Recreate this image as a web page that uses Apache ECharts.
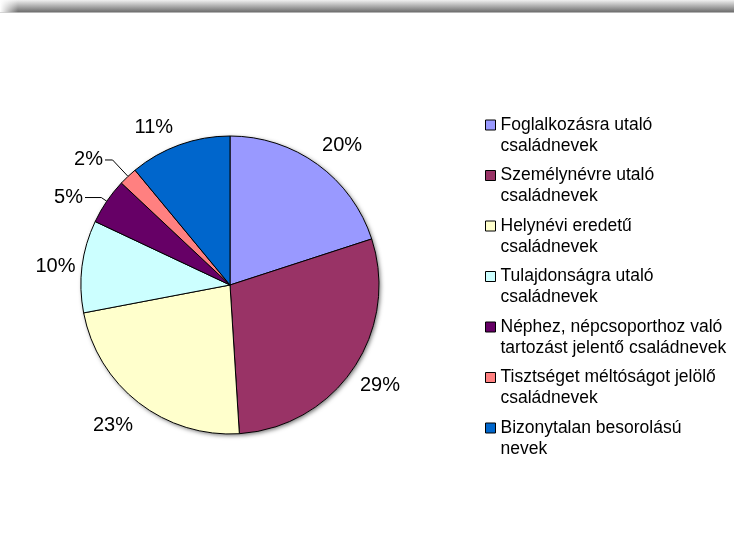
<!DOCTYPE html>
<html>
<head>
<meta charset="utf-8">
<script src="https://cdn.jsdelivr.net/npm/echarts@6/dist/echarts.min.js"></script>
<style>
html,body{margin:0;padding:0;background:#fff;}
#chart{width:734px;height:555px;}
</style>
</head>
<body>
<div id="chart"></div>
<script>
// ---- data ----
const categories = [
  'Foglalkozásra utaló\ncsaládnevek',
  'Személynévre utaló\ncsaládnevek',
  'Helynévi eredetű\ncsaládnevek',
  'Tulajdonságra utaló\ncsaládnevek',
  'Néphez, népcsoporthoz való\ntartozást jelentő családnevek',
  'Tisztséget méltóságot jelölő\ncsaládnevek',
  'Bizonytalan besorolású\nnevek'
];
const values = [20, 29, 23, 10, 5, 2, 11];
const colors = ['#9999FF', '#993366', '#FFFFCC', '#CCFFFF', '#660066', '#FF8080', '#0066CC'];

// ---- label placement tuning (layout only) ----
const labelTune = [
  {len: 22.9, len2: 0, dist: -9, line: false},
  {len: 29.7, len2: 0, dist: -17.8, line: false},
  {len: 28.2, len2: 0, dist: -11.6, line: false},
  {len: 0, len2: 0, dist: 6.7, line: false},
  {len: 6.6, len2: 16.3, dist: 2, line: true},
  {len: 22.5, len2: 7.6, dist: 2, line: true},
  {len: 18.9, len2: 0, dist: 0, line: false}
];

const FONT = '"Liberation Sans", Arial, sans-serif';
const chart = echarts.init(document.getElementById('chart'), null, {renderer: 'canvas'});

const pieData = categories.map((name, i) => ({
  name: name,
  value: values[i],
  itemStyle: {color: colors[i]},
  label: {distanceToLabelLine: labelTune[i].dist},
  labelLine: {
    show: labelTune[i].line,
    length: labelTune[i].len,
    length2: labelTune[i].len2
  }
}));

const option = {
  animation: false,
  graphic: [
    {
      type: 'rect',
      silent: true,
      shape: {x: 0, y: 0, width: 734, height: 12.5},
      style: {
        fill: new echarts.graphic.LinearGradient(0, 0, 0, 1, [
          {offset: 0, color: '#f0f0f0'},
          {offset: 1, color: '#686868'}
        ])
      }
    },
    {
      type: 'rect',
      silent: true,
      shape: {x: 0, y: 0, width: 18, height: 12.5},
      style: {
        fill: new echarts.graphic.LinearGradient(0, 0, 1, 0, [
          {offset: 0, color: 'rgba(255,255,255,1)'},
          {offset: 1, color: 'rgba(255,255,255,0)'}
        ])
      }
    }
  ],
  legend: {
    orient: 'vertical',
    left: 485,
    top: 93.5,
    padding: 0,
    itemWidth: 10,
    itemHeight: 10,
    itemGap: -12.5,
    selectedMode: false,
    data: categories,
    icon: 'rect',
    itemStyle: {borderColor: '#000', borderWidth: 1},
    formatter: name => '\n' + name,
    textStyle: {
      fontFamily: FONT,
      fontSize: 17.5,
      lineHeight: 21,
      color: '#000'
    }
  },
  series: [
    {
      type: 'pie',
      silent: true,
      center: [230, 285],
      radius: 149,
      label: {show: false},
      labelLine: {show: false},
      itemStyle: {
        color: '#ffffff',
        shadowBlur: 4,
        shadowOffsetX: 1.5,
        shadowOffsetY: 1.5,
        shadowColor: 'rgba(0,0,0,0.55)'
      },
      data: [{value: 1, name: '__shadow'}]
    },
    {
      type: 'pie',
      center: [230, 285],
      radius: 149,
      startAngle: 90,
      clockwise: true,
      avoidLabelOverlap: false,
      silent: true,
      itemStyle: {borderColor: '#000', borderWidth: 1},
      label: {
        show: true,
        position: 'outside',
        alignTo: 'none',
        fontFamily: FONT,
        fontSize: 20,
        color: '#000',
        formatter: p => p.value + '%'
      },
      labelLine: {lineStyle: {color: '#000', width: 1}},
      emphasis: {disabled: true},
      data: pieData
    }
  ]
};
chart.setOption(option);
</script>
</body>
</html>
